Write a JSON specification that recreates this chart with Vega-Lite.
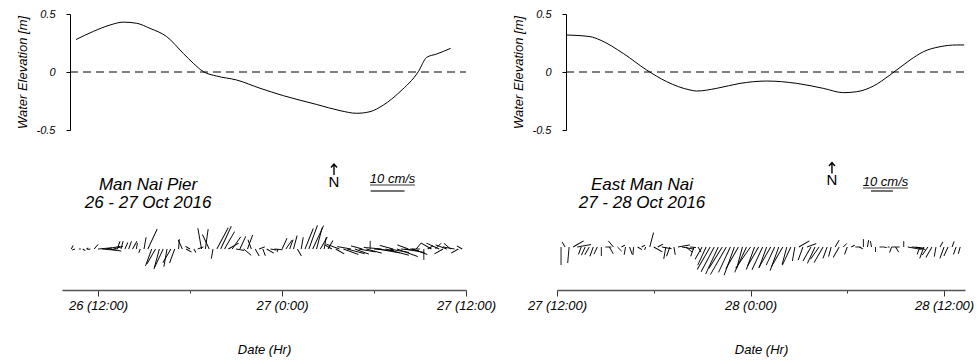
{
  "$schema": "https://vega.github.io/schema/vega-lite/v6.json",
  "background": "white",
  "padding": {"left": 16, "top": 8, "right": 2, "bottom": 2},
  "config": {
    "view": {"stroke": null},
    "font": "Liberation Sans",
    "axis": {
      "labelFont": "Liberation Sans",
      "titleFont": "Liberation Sans",
      "labelFontStyle": "italic",
      "titleFontStyle": "italic",
      "titleFontWeight": "normal",
      "labelColor": "#000",
      "titleColor": "#000",
      "domainColor": "#333",
      "tickColor": "#333",
      "grid": false
    }
  },
  "datasets": {
    "elev1": [
      {"h": 10.565, "z": 0.28}, {"h": 11.696, "z": 0.35}, {"h": 12.783, "z": 0.405}, {"h": 13.652, "z": 0.43},
      {"h": 14.522, "z": 0.42}, {"h": 15.391, "z": 0.376}, {"h": 16.478, "z": 0.305}, {"h": 17.565, "z": 0.16},
      {"h": 18.217, "z": 0.075}, {"h": 18.87, "z": 0.003}, {"h": 19.739, "z": -0.035}, {"h": 21.043, "z": -0.069},
      {"h": 22.565, "z": -0.14}, {"h": 24.087, "z": -0.204}, {"h": 26.261, "z": -0.28}, {"h": 27.783, "z": -0.333},
      {"h": 28.87, "z": -0.356}, {"h": 29.739, "z": -0.342}, {"h": 30.609, "z": -0.285}, {"h": 31.696, "z": -0.17},
      {"h": 32.891, "z": 0.003}, {"h": 33.435, "z": 0.126}, {"h": 34.087, "z": 0.155}, {"h": 35.0, "z": 0.204}
    ],
    "elev2": [
      {"h": 36.56, "z": 0.319}, {"h": 38.05, "z": 0.305}, {"h": 38.67, "z": 0.276}, {"h": 40.11, "z": 0.16},
      {"h": 41.56, "z": 0.017}, {"h": 42.8, "z": -0.083}, {"h": 44.25, "z": -0.155}, {"h": 44.66, "z": -0.164},
      {"h": 45.9, "z": -0.141}, {"h": 47.35, "z": -0.098}, {"h": 49.0, "z": -0.078}, {"h": 50.87, "z": -0.098},
      {"h": 52.51, "z": -0.141}, {"h": 53.76, "z": -0.178}, {"h": 54.59, "z": -0.17}, {"h": 55.62, "z": -0.121},
      {"h": 56.65, "z": -0.026}, {"h": 57.89, "z": 0.103}, {"h": 58.72, "z": 0.175}, {"h": 59.75, "z": 0.218},
      {"h": 60.79, "z": 0.233}, {"h": 61.25, "z": 0.233}
    ],
    "stk1": [
      {"h": 10.25, "s": 1.2, "d": 30}, {"h": 10.5, "s": 0.9, "d": 250}, {"h": 10.75, "s": 0.6, "d": 90}, {"h": 11.0, "s": 0.9, "d": 120},
      {"h": 11.25, "s": 0.6, "d": 60}, {"h": 11.5, "s": 0.9, "d": 260}, {"h": 11.75, "s": 1.8, "d": 40}, {"h": 12.0, "s": 4.1, "d": 85},
      {"h": 12.25, "s": 4.7, "d": 95}, {"h": 12.5, "s": 4.4, "d": 80}, {"h": 12.75, "s": 3.5, "d": 100}, {"h": 13.0, "s": 2.9, "d": 75},
      {"h": 13.25, "s": 2.4, "d": 20}, {"h": 13.5, "s": 2.4, "d": 15}, {"h": 13.75, "s": 2.1, "d": 25}, {"h": 14.0, "s": 2.4, "d": 20},
      {"h": 14.25, "s": 2.6, "d": 30}, {"h": 14.5, "s": 1.8, "d": 10}, {"h": 14.75, "s": 1.2, "d": 200}, {"h": 15.0, "s": 3.5, "d": 10},
      {"h": 15.25, "s": 6.5, "d": 25}, {"h": 15.5, "s": 5.3, "d": 200}, {"h": 15.75, "s": 5.0, "d": 210}, {"h": 16.0, "s": 5.6, "d": 195},
      {"h": 16.25, "s": 6.5, "d": 205}, {"h": 16.5, "s": 5.3, "d": 190}, {"h": 16.75, "s": 4.7, "d": 210}, {"h": 17.0, "s": 4.4, "d": 200},
      {"h": 17.25, "s": 2.9, "d": 5}, {"h": 17.5, "s": 2.9, "d": 335}, {"h": 17.75, "s": 1.8, "d": 120}, {"h": 18.0, "s": 1.5, "d": 300},
      {"h": 18.25, "s": 1.2, "d": 150}, {"h": 18.5, "s": 1.8, "d": 70}, {"h": 18.75, "s": 6.2, "d": 350}, {"h": 19.0, "s": 5.9, "d": 8},
      {"h": 19.25, "s": 4.7, "d": 335}, {"h": 19.5, "s": 2.9, "d": 190}, {"h": 19.75, "s": 7.1, "d": 28}, {"h": 20.0, "s": 7.4, "d": 25},
      {"h": 20.25, "s": 5.9, "d": 30}, {"h": 20.5, "s": 3.5, "d": 60}, {"h": 20.75, "s": 4.4, "d": 35}, {"h": 21.0, "s": 2.4, "d": 100},
      {"h": 21.25, "s": 4.1, "d": 25}, {"h": 21.5, "s": 2.9, "d": 130}, {"h": 21.75, "s": 4.4, "d": 20}, {"h": 22.0, "s": 2.9, "d": 340},
      {"h": 22.25, "s": 2.4, "d": 150}, {"h": 22.5, "s": 1.8, "d": 70}, {"h": 22.75, "s": 2.1, "d": 160}, {"h": 23.0, "s": 2.4, "d": 120},
      {"h": 23.25, "s": 1.8, "d": 100}, {"h": 23.5, "s": 2.4, "d": 95}, {"h": 23.75, "s": 0.9, "d": 200}, {"h": 24.0, "s": 3.5, "d": 25},
      {"h": 24.25, "s": 3.2, "d": 35}, {"h": 24.5, "s": 2.9, "d": 20}, {"h": 24.75, "s": 4.1, "d": 15}, {"h": 25.0, "s": 2.4, "d": 150},
      {"h": 25.25, "s": 3.5, "d": 10}, {"h": 25.5, "s": 6.5, "d": 22}, {"h": 25.75, "s": 7.4, "d": 20}, {"h": 26.0, "s": 7.6, "d": 25},
      {"h": 26.25, "s": 6.5, "d": 15}, {"h": 26.5, "s": 4.1, "d": 30}, {"h": 26.75, "s": 3.5, "d": 10}, {"h": 27.0, "s": 2.9, "d": 30},
      {"h": 27.25, "s": 2.4, "d": 300}, {"h": 27.5, "s": 2.9, "d": 120}, {"h": 27.75, "s": 4.1, "d": 290}, {"h": 28.0, "s": 4.7, "d": 110},
      {"h": 28.25, "s": 5.3, "d": 105}, {"h": 28.5, "s": 4.1, "d": 280}, {"h": 28.75, "s": 4.4, "d": 110}, {"h": 29.0, "s": 5.0, "d": 100},
      {"h": 29.25, "s": 3.5, "d": 285}, {"h": 29.5, "s": 4.7, "d": 105}, {"h": 29.75, "s": 2.4, "d": 0}, {"h": 30.0, "s": 5.9, "d": 95},
      {"h": 30.25, "s": 6.5, "d": 100}, {"h": 30.5, "s": 5.3, "d": 275}, {"h": 30.75, "s": 7.1, "d": 105}, {"h": 31.0, "s": 5.9, "d": 100},
      {"h": 31.25, "s": 4.1, "d": 285}, {"h": 31.5, "s": 6.5, "d": 110}, {"h": 31.75, "s": 5.3, "d": 95}, {"h": 32.0, "s": 5.9, "d": 100},
      {"h": 32.25, "s": 3.5, "d": 290}, {"h": 32.5, "s": 4.7, "d": 110}, {"h": 32.75, "s": 2.4, "d": 40}, {"h": 33.0, "s": 2.9, "d": 270},
      {"h": 33.25, "s": 3.2, "d": 180}, {"h": 33.5, "s": 1.8, "d": 60}, {"h": 33.75, "s": 3.5, "d": 300}, {"h": 34.0, "s": 2.4, "d": 45},
      {"h": 34.25, "s": 4.1, "d": 295}, {"h": 34.5, "s": 2.9, "d": 240}, {"h": 34.75, "s": 3.5, "d": 290}, {"h": 35.0, "s": 2.6, "d": 310},
      {"h": 35.25, "s": 3.5, "d": 280}, {"h": 35.5, "s": 2.4, "d": 240}, {"h": 35.75, "s": 1.8, "d": 300}
    ],
    "stk2": [
      {"h": 36.25, "s": 8.2, "d": 180}, {"h": 36.5, "s": 2.7, "d": 330}, {"h": 36.75, "s": 7.3, "d": 185}, {"h": 37.0, "s": 5.5, "d": 60},
      {"h": 37.25, "s": 6.4, "d": 80}, {"h": 37.5, "s": 3.6, "d": 200}, {"h": 37.75, "s": 4.1, "d": 205}, {"h": 38.0, "s": 4.1, "d": 210},
      {"h": 38.25, "s": 4.5, "d": 200}, {"h": 38.5, "s": 3.6, "d": 205}, {"h": 38.75, "s": 4.1, "d": 180}, {"h": 39.0, "s": 2.7, "d": 90},
      {"h": 39.25, "s": 3.6, "d": 150}, {"h": 39.5, "s": 3.6, "d": 320}, {"h": 39.75, "s": 2.7, "d": 135}, {"h": 40.0, "s": 1.8, "d": 60},
      {"h": 40.25, "s": 3.6, "d": 190}, {"h": 40.5, "s": 3.6, "d": 160}, {"h": 40.75, "s": 3.6, "d": 185}, {"h": 41.0, "s": 2.3, "d": 120},
      {"h": 41.25, "s": 1.8, "d": 60}, {"h": 41.5, "s": 1.4, "d": 200}, {"h": 41.75, "s": 6.8, "d": 15}, {"h": 42.0, "s": 4.5, "d": 120},
      {"h": 42.25, "s": 2.7, "d": 60}, {"h": 42.5, "s": 4.5, "d": 100}, {"h": 42.75, "s": 5.5, "d": 190}, {"h": 43.0, "s": 4.5, "d": 200},
      {"h": 43.25, "s": 3.6, "d": 170}, {"h": 43.5, "s": 5.5, "d": 80}, {"h": 43.75, "s": 5.5, "d": 100}, {"h": 44.0, "s": 3.6, "d": 130},
      {"h": 44.25, "s": 2.7, "d": 95}, {"h": 44.5, "s": 4.5, "d": 200}, {"h": 44.75, "s": 2.7, "d": 150}, {"h": 45.0, "s": 6.4, "d": 210},
      {"h": 45.25, "s": 9.1, "d": 205}, {"h": 45.5, "s": 11.8, "d": 210}, {"h": 45.75, "s": 12.7, "d": 208}, {"h": 46.0, "s": 13.6, "d": 205},
      {"h": 46.25, "s": 11.4, "d": 212}, {"h": 46.5, "s": 14.5, "d": 210}, {"h": 46.75, "s": 12.7, "d": 205}, {"h": 47.0, "s": 13.6, "d": 200},
      {"h": 47.25, "s": 11.4, "d": 210}, {"h": 47.5, "s": 10.0, "d": 195}, {"h": 47.75, "s": 12.7, "d": 205}, {"h": 48.0, "s": 11.8, "d": 215},
      {"h": 48.25, "s": 10.9, "d": 200}, {"h": 48.5, "s": 10.0, "d": 210}, {"h": 48.75, "s": 11.4, "d": 205}, {"h": 49.0, "s": 10.0, "d": 200},
      {"h": 49.25, "s": 10.9, "d": 210}, {"h": 49.5, "s": 9.1, "d": 205}, {"h": 49.75, "s": 11.4, "d": 200}, {"h": 50.0, "s": 10.0, "d": 210},
      {"h": 50.25, "s": 8.2, "d": 195}, {"h": 50.5, "s": 9.1, "d": 205}, {"h": 50.75, "s": 6.4, "d": 190}, {"h": 51.0, "s": 5.5, "d": 60},
      {"h": 51.25, "s": 6.4, "d": 200}, {"h": 51.5, "s": 4.5, "d": 70}, {"h": 51.75, "s": 7.3, "d": 210}, {"h": 52.0, "s": 8.2, "d": 205},
      {"h": 52.25, "s": 6.8, "d": 215}, {"h": 52.5, "s": 8.2, "d": 210}, {"h": 52.75, "s": 5.5, "d": 200}, {"h": 53.0, "s": 4.5, "d": 195},
      {"h": 53.25, "s": 3.6, "d": 30}, {"h": 53.5, "s": 5.5, "d": 210}, {"h": 53.75, "s": 2.3, "d": 45}, {"h": 54.0, "s": 3.6, "d": 200},
      {"h": 54.25, "s": 1.8, "d": 60}, {"h": 54.5, "s": 2.3, "d": 90}, {"h": 54.75, "s": 1.8, "d": 120}, {"h": 55.0, "s": 3.6, "d": 0},
      {"h": 55.25, "s": 3.2, "d": 10}, {"h": 55.5, "s": 2.7, "d": 350}, {"h": 55.75, "s": 2.3, "d": 180}, {"h": 56.0, "s": 1.8, "d": 90},
      {"h": 56.25, "s": 1.4, "d": 100}, {"h": 56.5, "s": 0.9, "d": 90}, {"h": 56.75, "s": 2.7, "d": 200}, {"h": 57.0, "s": 2.7, "d": 150},
      {"h": 57.25, "s": 3.6, "d": 270}, {"h": 57.5, "s": 2.7, "d": 0}, {"h": 57.75, "s": 6.4, "d": 100}, {"h": 58.0, "s": 5.5, "d": 95},
      {"h": 58.25, "s": 4.5, "d": 105}, {"h": 58.5, "s": 3.6, "d": 200}, {"h": 58.75, "s": 5.5, "d": 200}, {"h": 59.0, "s": 4.5, "d": 215},
      {"h": 59.25, "s": 5.5, "d": 210}, {"h": 59.5, "s": 4.5, "d": 190}, {"h": 59.75, "s": 2.7, "d": 30}, {"h": 60.0, "s": 5.5, "d": 200},
      {"h": 60.25, "s": 4.5, "d": 205}, {"h": 60.5, "s": 2.7, "d": 20}, {"h": 60.75, "s": 3.6, "d": 200}, {"h": 61.0, "s": 3.2, "d": 195}
    ]
  },
  "columns": 2,
  "align": "each",
  "bounds": "flush",
  "spacing": {"row": 10, "column": 91},
  "resolve": {"scale": {"size": "independent", "angle": "independent"}},
  "concat": [
    {
      "width": 404,
      "height": 116,
      "data": {"name": "elev1"},
      "layer": [
        {
          "mark": {"type": "line", "color": "black", "strokeWidth": 1, "interpolate": "monotone"},
          "encoding": {
            "x": {"field": "h", "type": "quantitative", "scale": {"domain": [9.65, 36], "nice": false, "zero": false}, "axis": null},
            "y": {"field": "z", "type": "quantitative", "scale": {"domain": [-0.5, 0.5], "nice": false, "zero": false},
              "axis": {"title": "Water Elevation [m]", "values": [-0.5, -0.25, 0, 0.25, 0.5],
                "labelExpr": "datum.value == 0.5 ? '0.5' : datum.value == 0 ? '0' : datum.value == -0.5 ? '-0.5' : ''",
                "offset": -8, "tickSize": 4, "labelPadding": 11, "labelFontSize": 11, "titleFontSize": 13, "titlePadding": 7,
                "domainColor": "#000", "tickColor": "#000", "labelOverlap": false}}
          }
        },
        {
          "data": {"values": [{}]},
          "mark": {"type": "rule", "color": "black", "strokeWidth": 1, "strokeDash": [8, 5]},
          "encoding": {
            "x": {"datum": 10.17, "type": "quantitative"},
            "x2": {"datum": 36},
            "y": {"datum": 0, "type": "quantitative"}
          }
        }
      ]
    },
    {
      "width": 408,
      "height": 116,
      "data": {"name": "elev2"},
      "layer": [
        {
          "mark": {"type": "line", "color": "black", "strokeWidth": 1, "interpolate": "monotone"},
          "encoding": {
            "x": {"field": "h", "type": "quantitative", "scale": {"domain": [36, 61.3], "nice": false, "zero": false}, "axis": null},
            "y": {"field": "z", "type": "quantitative", "scale": {"domain": [-0.5, 0.5], "nice": false, "zero": false},
              "axis": {"title": "Water Elevation [m]", "values": [-0.5, -0.25, 0, 0.25, 0.5],
                "labelExpr": "datum.value == 0.5 ? '0.5' : datum.value == 0 ? '0' : datum.value == -0.5 ? '-0.5' : ''",
                "offset": -9, "tickSize": 4, "labelPadding": 11, "labelFontSize": 11, "titleFontSize": 13, "titlePadding": 7,
                "domainColor": "#000", "tickColor": "#000", "labelOverlap": false}}
          }
        },
        {
          "data": {"values": [{}]},
          "mark": {"type": "rule", "color": "black", "strokeWidth": 1, "strokeDash": [8, 5]},
          "encoding": {
            "x": {"datum": 36.56, "type": "quantitative"},
            "x2": {"datum": 61.3},
            "y": {"datum": 0, "type": "quantitative"}
          }
        }
      ]
    },
    {
      "width": 404,
      "height": 150,
      "layer": [
        {
          "data": {"name": "stk1"},
          "mark": {"type": "point", "shape": "M0,0L0,-1", "filled": false, "color": "black", "strokeWidth": 0.9, "opacity": 1},
          "encoding": {
            "x": {"field": "h", "type": "quantitative", "scale": {"domain": [9.65, 36], "nice": false, "zero": false},
              "axis": {"values": [12, 18, 24, 30, 36], "title": "Date (Hr)",
                "labelExpr": "datum.value % 12 == 0 ? (floor(datum.value / 24) + 26) + ' (' + (datum.value % 24) + ':00)' : ''",
                "tickSize": {"condition": {"test": "datum.value % 12 == 0", "value": 6}, "value": 3},
                "labelPadding": 3, "labelFontSize": 13, "titleFontSize": 13, "titlePadding": 31,
                "labelFlush": false, "labelOverlap": false, "domainColor": "#555", "domainWidth": 1.5, "tickColor": "#333"}},
            "y": {"datum": 41, "type": "quantitative", "scale": {"domain": [0, 150], "nice": false, "zero": false}, "axis": null},
            "size": {"field": "s", "type": "quantitative", "scale": {"type": "pow", "exponent": 2, "domain": [0, 10], "range": [0, 4624]}, "legend": null},
            "angle": {"field": "d", "type": "quantitative", "scale": null}
          }
        },
        {
          "data": {"values": [{}]},
          "mark": {"type": "text", "fontSize": 17, "fontStyle": "italic", "align": "center", "baseline": "alphabetic", "lineHeight": 18, "color": "black",
            "text": ["Man Nai Pier", "26 - 27 Oct 2016"]},
          "encoding": {"x": {"datum": 15.26, "type": "quantitative"}, "y": {"datum": 100, "type": "quantitative"}}
        },
        {
          "data": {"values": [{}]},
          "mark": {"type": "text", "fontSize": 15, "align": "center", "baseline": "alphabetic", "color": "black", "text": "N"},
          "encoding": {"x": {"datum": 27.39, "type": "quantitative"}, "y": {"datum": 103, "type": "quantitative"}}
        },
        {
          "data": {"values": [{}]},
          "mark": {"type": "point", "shape": "M0,1L0,-1M-0.55,-0.35L0,-1L0.55,-0.35", "filled": false, "color": "black", "strokeWidth": 1.4, "opacity": 1, "size": 121},
          "encoding": {"x": {"datum": 27.39, "type": "quantitative"}, "y": {"datum": 120.5, "type": "quantitative"}}
        },
        {
          "data": {"values": [{}]},
          "mark": {"type": "text", "fontSize": 13, "fontStyle": "italic", "align": "center", "baseline": "alphabetic", "color": "black", "text": "10 cm/s"},
          "encoding": {"x": {"datum": 31.21, "type": "quantitative"}, "y": {"datum": 107, "type": "quantitative"}}
        },
        {
          "data": {"values": [{}]},
          "mark": {"type": "rule", "color": "black", "strokeWidth": 0.8},
          "encoding": {"x": {"datum": 29.74, "type": "quantitative"}, "x2": {"datum": 32.67}, "y": {"datum": 105, "type": "quantitative"}}
        },
        {
          "data": {"values": [{}]},
          "mark": {"type": "rule", "color": "#444", "strokeWidth": 1.5},
          "encoding": {"x": {"datum": 29.78, "type": "quantitative"}, "x2": {"datum": 31.99}, "y": {"datum": 99, "type": "quantitative"}}
        }
      ]
    },
    {
      "width": 408,
      "height": 150,
      "layer": [
        {
          "data": {"name": "stk2"},
          "mark": {"type": "point", "shape": "M0,0L0,-1", "filled": false, "color": "black", "strokeWidth": 0.9, "opacity": 1},
          "encoding": {
            "x": {"field": "h", "type": "quantitative", "scale": {"domain": [36, 61.3], "nice": false, "zero": false},
              "axis": {"values": [36, 42, 48, 54, 60], "title": "Date (Hr)",
                "labelExpr": "datum.value % 12 == 0 ? (floor(datum.value / 24) + 26) + ' (' + (datum.value % 24) + ':00)' : ''",
                "tickSize": {"condition": {"test": "datum.value % 12 == 0", "value": 6}, "value": 3},
                "labelPadding": 3, "labelFontSize": 13, "titleFontSize": 13, "titlePadding": 31,
                "labelFlush": false, "labelOverlap": false, "domainColor": "#555", "domainWidth": 1.5, "tickColor": "#333"}},
            "y": {"datum": 43, "type": "quantitative", "scale": {"domain": [0, 150], "nice": false, "zero": false}, "axis": null},
            "size": {"field": "s", "type": "quantitative", "scale": {"type": "pow", "exponent": 2, "domain": [0, 10], "range": [0, 1936]}, "legend": null},
            "angle": {"field": "d", "type": "quantitative", "scale": null}
          }
        },
        {
          "data": {"values": [{}]},
          "mark": {"type": "text", "fontSize": 17, "fontStyle": "italic", "align": "center", "baseline": "alphabetic", "lineHeight": 18, "color": "black",
            "text": ["East Man Nai", "27 - 28 Oct 2016"]},
          "encoding": {"x": {"datum": 41.27, "type": "quantitative"}, "y": {"datum": 100, "type": "quantitative"}}
        },
        {
          "data": {"values": [{}]},
          "mark": {"type": "text", "fontSize": 15, "align": "center", "baseline": "alphabetic", "color": "black", "text": "N"},
          "encoding": {"x": {"datum": 53.05, "type": "quantitative"}, "y": {"datum": 105, "type": "quantitative"}}
        },
        {
          "data": {"values": [{}]},
          "mark": {"type": "point", "shape": "M0,1L0,-1M-0.55,-0.35L0,-1L0.55,-0.35", "filled": false, "color": "black", "strokeWidth": 1.4, "opacity": 1, "size": 121},
          "encoding": {"x": {"datum": 53.05, "type": "quantitative"}, "y": {"datum": 122, "type": "quantitative"}}
        },
        {
          "data": {"values": [{}]},
          "mark": {"type": "text", "fontSize": 13, "fontStyle": "italic", "align": "center", "baseline": "alphabetic", "color": "black", "text": "10 cm/s"},
          "encoding": {"x": {"datum": 56.37, "type": "quantitative"}, "y": {"datum": 104, "type": "quantitative"}}
        },
        {
          "data": {"values": [{}]},
          "mark": {"type": "rule", "color": "black", "strokeWidth": 0.8},
          "encoding": {"x": {"datum": 54.98, "type": "quantitative"}, "x2": {"datum": 57.77}, "y": {"datum": 102, "type": "quantitative"}}
        },
        {
          "data": {"values": [{}]},
          "mark": {"type": "rule", "color": "#444", "strokeWidth": 1.5},
          "encoding": {"x": {"datum": 55.47, "type": "quantitative"}, "x2": {"datum": 56.83}, "y": {"datum": 99, "type": "quantitative"}}
        }
      ]
    }
  ]
}
